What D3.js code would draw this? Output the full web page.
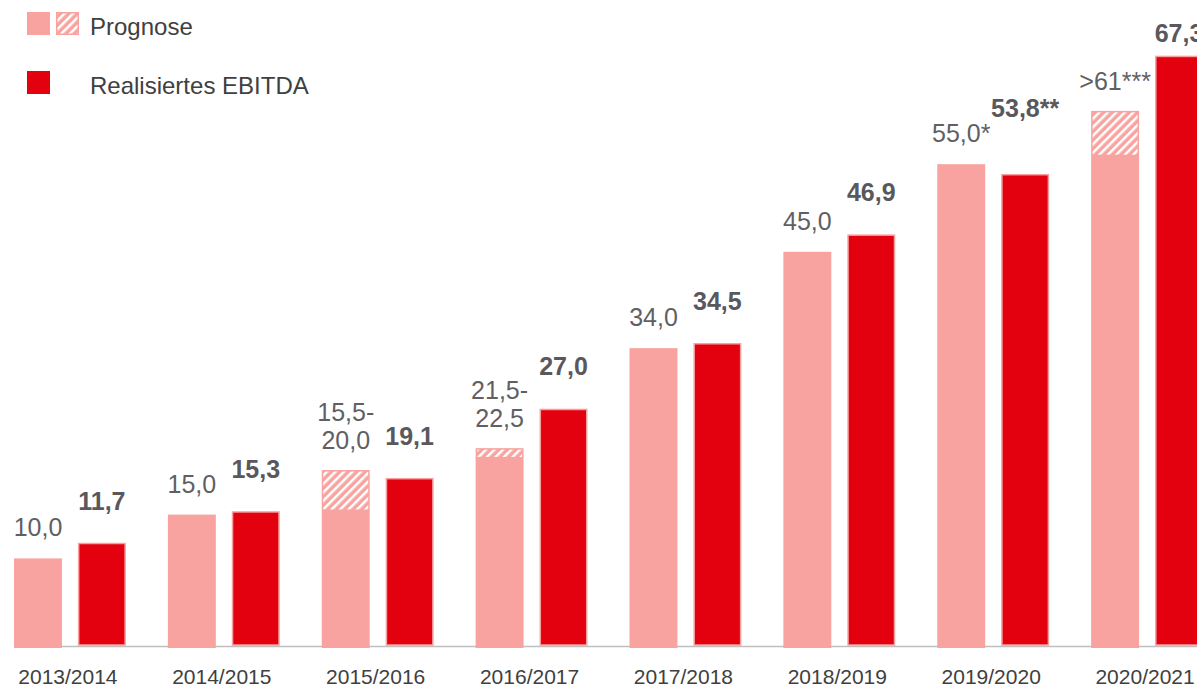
<!doctype html>
<html lang="de">
  <head>
    <meta charset="utf-8" />
    <title>EBITDA Prognose</title>
    <style>
      body { margin: 0; background: #fff; }
      text { font-family: "Liberation Sans", Arial, sans-serif; }
    </style>
  </head>
  <body>
    <div id="my_dataviz"></div>
    <script src="https://d3js.org/d3.v7.min.js"></script>
    <script>
// the data
var categories = ["2013/2014", "2014/2015", "2015/2016", "2016/2017", "2017/2018", "2018/2019", "2019/2020", "2020/2021"];
var forecastLow = [10.0, 15.0, 15.5, 21.5, 34.0, 45.0, 55.0, 56.0];   // solid part of the forecast
var forecastHigh = [10.0, 15.0, 20.0, 22.5, 34.0, 45.0, 55.0, 61.0];  // top of the hatched range
var actual = [11.7, 15.3, 19.1, 27.0, 34.5, 46.9, 53.8, 67.3];
var forecastLabels = [["10,0"], ["15,0"], ["15,5-", "20,0"], ["21,5-", "22,5"], ["34,0"], ["45,0"], ["55,0*"], [">61***"]];
var actualLabels = ["11,7", "15,3", "19,1", "27,0", "34,5", "46,9", "53,8**", "67,3"];
var legendLabels = ["Prognose", "Realisiertes EBITDA"];

var data = categories.map(function(c, i) {
  return { cat: c, low: forecastLow[i], high: forecastHigh[i], actual: actual[i],
           fLabel: forecastLabels[i], aLabel: actualLabels[i] };
});

var width = 1197, height = 687;
var pink = "#f8a3a0", red = "#e3000f", grey = "#5f5f64";

var svg = d3.select("#my_dataviz")
  .append("svg")
    .attr("width", width)
    .attr("height", height);

// hatch for the forecast range
var pattern = svg.append("defs").append("pattern")
    .attr("id", "hatch")
    .attr("patternUnits", "userSpaceOnUse")
    .attr("width", 6)
    .attr("height", 6)
    .attr("patternTransform", "rotate(45)");
pattern.append("rect").attr("width", 6).attr("height", 6).attr("fill", pink);
pattern.append("line")
    .attr("x1", 0).attr("y1", 0).attr("x2", 0).attr("y2", 6)
    .attr("stroke", "#fff").attr("stroke-width", 5);

// scales - the last group runs off the right edge, as in the slide
var x = d3.scaleBand()
    .domain(categories)
    .range([14, 1203])
    .paddingInner(0.273)
    .paddingOuter(0);

var xSub = d3.scaleBand()
    .domain(["forecast", "actual"])
    .range([0, x.bandwidth()])
    .paddingInner(0.25);

var y = d3.scaleLinear()
    .domain([0, 70])
    .range([646, 646 - 70 * 8.76]);

// axis line
svg.append("line")
    .attr("x1", 25).attr("x2", width)
    .attr("y1", y(0) + 0.5).attr("y2", y(0) + 0.5)
    .attr("stroke", "#bfbfbf")
    .attr("stroke-width", 1.5);

var groups = svg.selectAll("g.cat")
  .data(data)
  .enter()
  .append("g")
    .attr("class", "cat")
    .attr("transform", function(d) { return "translate(" + x(d.cat) + ",0)"; });

// forecast: hatched range first, solid part on top
groups.filter(function(d) { return d.high > d.low; })
  .append("rect")
    .attr("x", xSub("forecast") + 0.75)
    .attr("y", function(d) { return y(d.high); })
    .attr("width", xSub.bandwidth() - 1.5)
    .attr("height", function(d) { return y(d.low) - y(d.high); })
    .attr("fill", "url(#hatch)")
    .attr("stroke", pink)
    .attr("stroke-width", 1.5);

groups.append("rect")
    .attr("x", xSub("forecast"))
    .attr("y", function(d) { return y(d.low); })
    .attr("width", xSub.bandwidth())
    .attr("height", function(d) { return y(0) - y(d.low) + 2; })
    .attr("fill", pink);

// realised EBITDA
groups.append("rect")
    .attr("x", xSub("actual") + 0.75)
    .attr("y", function(d) { return y(d.actual); })
    .attr("width", xSub.bandwidth() - 1.5)
    .attr("height", function(d) { return y(0) - y(d.actual) - 1; })
    .attr("fill", red)
    .attr("stroke", "#f7a09e")
    .attr("stroke-width", 1.5);

// forecast labels (may be two lines)
function forecastBase(d) { return y(d.high) - 22; }

groups.append("text")
    .attr("text-anchor", "middle")
    .attr("fill", grey)
    .style("font-size", "25px")
    .each(function(d) {
      var t = d3.select(this);
      var n = d.fLabel.length;
      d.fLabel.forEach(function(s, i) {
        t.append("tspan")
          .attr("x", xSub("forecast") + xSub.bandwidth() / 2)
          .attr("y", forecastBase(d) - (n - 1 - i) * 28)
          .text(s);
      });
    });

// actual labels: lift above the forecast label when the bar falls short
// of the forecast, keep clear of the top edge
groups.append("text")
    .attr("x", xSub("actual") + xSub.bandwidth() / 2)
    .attr("y", function(d) {
      var b = d.actual < d.low ? forecastBase(d) - 25 : y(d.actual) - 34;
      return Math.max(b, 42);
    })
    .attr("text-anchor", "middle")
    .attr("fill", "#58585d")
    .style("font-size", "25px")
    .style("font-weight", "bold")
    .text(function(d) { return d.aLabel; });

// category labels
groups.append("text")
    .attr("x", x.bandwidth() / 2 - 2)
    .attr("y", 684)
    .attr("text-anchor", "middle")
    .attr("fill", "#404040")
    .style("font-size", "21px")
    .text(function(d) { return d.cat; });

// legend
var legend = svg.append("g");
legend.append("rect").attr("x", 27).attr("y", 12).attr("width", 23).attr("height", 23).attr("fill", pink);
legend.append("rect").attr("x", 56.75).attr("y", 12.75).attr("width", 21.5).attr("height", 21.5)
    .attr("fill", "url(#hatch)").attr("stroke", pink).attr("stroke-width", 1.5);
legend.append("rect").attr("x", 27).attr("y", 71).attr("width", 23).attr("height", 23).attr("fill", red);
legend.selectAll("text")
  .data(legendLabels)
  .enter()
  .append("text")
    .attr("x", 90)
    .attr("y", function(d, i) { return 35 + i * 59; })
    .attr("fill", "#404040")
    .style("font-size", "24px")
    .text(function(d) { return d; });
    </script>
  </body>
</html>
